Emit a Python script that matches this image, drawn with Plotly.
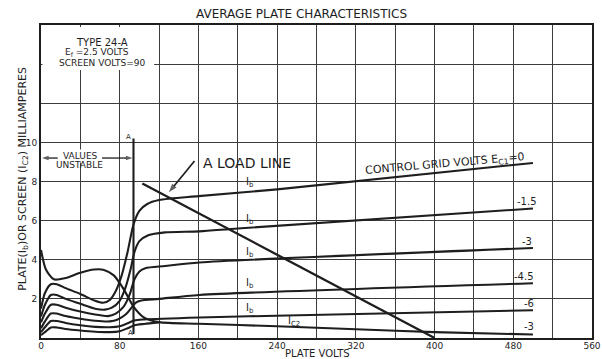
import plotly.graph_objects as go

# ---- data (plate volts, milliamperes) ----
V_IB0 = [0, 4, 10, 16, 25, 40, 55, 63, 70, 76, 82, 88, 94, 100, 108, 120, 160, 240, 500]
IB0 = [1.5, 2.3, 2.75, 2.75, 2.55, 2.25, 1.9, 1.8, 1.95, 2.4, 3.2, 4.4, 5.8, 6.5, 6.85, 7.05, 7.25, 7.6, 8.95]

V_IB15 = [0, 4, 10, 16, 25, 40, 55, 65, 72, 80, 86, 91, 95, 100, 109, 126, 161, 200, 500]
IB15 = [1.1, 1.7, 2.2, 2.2, 2.0, 1.75, 1.5, 1.45, 1.55, 1.9, 2.6, 3.5, 4.4, 4.95, 5.25, 5.4, 5.45, 5.6, 6.62]

V_IB3 = [0, 4, 10, 16, 25, 40, 55, 68, 76, 84, 90, 95, 100, 106, 126, 161, 500]
IB3 = [0.8, 1.25, 1.7, 1.7, 1.55, 1.35, 1.2, 1.12, 1.25, 1.6, 2.2, 3.0, 3.4, 3.57, 3.68, 3.86, 4.6]

V_IB45 = [0, 4, 10, 16, 25, 40, 55, 70, 78, 86, 92, 96, 102, 120, 161, 500]
IB45 = [0.5, 0.85, 1.25, 1.25, 1.12, 0.98, 0.88, 0.85, 0.95, 1.2, 1.55, 1.8, 1.92, 2.0, 2.2, 2.8]

V_IB6 = [0, 4, 10, 16, 25, 40, 55, 70, 80, 88, 95, 105, 161, 250, 500]
IB6 = [0.3, 0.55, 0.87, 0.87, 0.77, 0.65, 0.57, 0.55, 0.6, 0.75, 0.9, 0.95, 1.05, 1.15, 1.42]

V_IB9 = [0, 4, 10, 16, 25, 40, 55, 70, 80, 88, 95, 105, 120]
IB9 = [0.15, 0.3, 0.54, 0.54, 0.46, 0.38, 0.32, 0.3, 0.35, 0.5, 0.65, 0.72, 0.8]

V_IC2 = [0, 5, 13, 24, 40, 54, 64, 74, 84, 94, 104, 120, 160, 240, 320, 400, 500]
IC2 = [4.5, 3.5, 3.0, 3.05, 3.34, 3.5, 3.48, 3.2, 2.5, 1.6, 1.07, 0.81, 0.73, 0.6, 0.45, 0.3, 0.18]

LOAD_V = [103, 400]
LOAD_I = [7.9, 0]

A_V = [94, 94]
A_I = [0.2, 10.2]

# arrow segments (tail -> tip)
UNSTABLE_LEFT_V = [17, 1]
UNSTABLE_RIGHT_V = [62, 93]
UNSTABLE_I = [9.2, 9.2]
POINTER_V = [156, 130]
POINTER_I = [9.05, 7.45]

X_TICKS = [0, 80, 160, 240, 320, 400, 480, 560]
X_LABELS = ["0", "80", "160", "240", "320", "400", "480", "560"]
X_MINOR = [40, 120, 200, 280, 360, 440, 520]
Y_TICKS = [2, 4, 6, 8, 10]
Y_LABELS = ["2", "4", "6", "8", "10"]
Y_MINOR = [12, 14]

GRID_LABELS = ["-1.5", "-3", "-4.5", "-6", "-3"]
GRID_LABEL_V = [494, 494, 491, 496, 496]
GRID_LABEL_I = [7.0, 4.95, 3.13, 1.76, 0.58]

IB_LABEL_I = [7.96, 6.06, 4.35, 2.8, 1.52]

INK = "#1e1e1e"
GRID = "#3c3c3c"
FONT = "DejaVu Sans"

fig = go.Figure()
curves = [(V_IB0, IB0), (V_IB15, IB15), (V_IB3, IB3), (V_IB45, IB45),
          (V_IB6, IB6), (V_IB9, IB9), (V_IC2, IC2)]
for vx, iy in curves:
    fig.add_trace(go.Scatter(x=vx, y=iy, mode="lines",
                             line=dict(color=INK, width=2.1, shape="spline", smoothing=0.7),
                             hoverinfo="skip"))
fig.add_trace(go.Scatter(x=LOAD_V, y=LOAD_I, mode="lines",
                         line=dict(color=INK, width=2.3), hoverinfo="skip"))
fig.add_trace(go.Scatter(x=A_V, y=A_I, mode="lines",
                         line=dict(color=INK, width=2.1), hoverinfo="skip"))

for ax_v, ax_i, w, ms in [(UNSTABLE_LEFT_V, UNSTABLE_I, 1.3, 7),
                          (UNSTABLE_RIGHT_V, UNSTABLE_I, 1.3, 7),
                          (POINTER_V, POINTER_I, 1.7, 9)]:
    fig.add_trace(go.Scatter(x=ax_v, y=ax_i, mode="lines+markers",
                             line=dict(color=INK, width=w),
                             marker=dict(symbol="arrow", size=[0, ms], angleref="previous",
                                         color=INK, line=dict(width=0)),
                             hoverinfo="skip"))

fig.update_layout(
    width=602, height=359,
    margin=dict(l=41, r=10, t=25, b=21, autoexpand=False),
    paper_bgcolor="white", plot_bgcolor="white",
    showlegend=False,
    font=dict(family=FONT, color=INK),
)
fig.update_xaxes(range=[0, 560], tickvals=X_TICKS, ticktext=X_LABELS, automargin=False,
                 showgrid=True, gridcolor=GRID, gridwidth=1.4,
                 minor=dict(tickvals=X_MINOR, showgrid=True, gridcolor=GRID, gridwidth=1.4, ticks=""),
                 showline=True, linecolor=INK, linewidth=2, mirror=True, ticklabelstandoff=-2,
                 ticks="", zeroline=False, tickfont=dict(size=9, family=FONT, color=INK))
fig.update_yaxes(range=[0, 16], tickvals=Y_TICKS, ticktext=Y_LABELS, automargin=False,
                 showgrid=True, gridcolor=GRID, gridwidth=1.4,
                 minor=dict(tickvals=Y_MINOR, showgrid=True, gridcolor=GRID, gridwidth=1.4, ticks=""),
                 showline=True, linecolor=INK, linewidth=2, mirror=True,
                 ticks="", zeroline=False, tickfont=dict(size=9, family=FONT, color=INK))

# white box for the tube description (covers grid in the corner)
fig.add_shape(type="rect", x0=1.5, x1=115, y0=13.7, y1=15.9, xref="x", yref="y",
              fillcolor="white", line=dict(width=0), layer="above")

ann = []
def txt(x, y, t, size=9, xref="x", yref="y", **kw):
    d = dict(x=x, y=y, text=t, xref=xref, yref=yref, showarrow=False,
             xanchor="center", yanchor="middle",
             font=dict(size=size, family=FONT, color=INK))
    d.update(kw)
    ann.append(d)

txt(0.472, 1.035, "AVERAGE PLATE CHARACTERISTICS", size=12, xref="paper", yref="paper")
txt(281, -0.049, "PLATE VOLTS", size=10, yref="paper")
txt(-0.033, 0.508, "PLATE(I<sub>b</sub>)OR SCREEN (I<sub>C2</sub>) MILLIAMPERES",
    size=11, xref="paper", yref="paper", textangle=-90)

txt(62, 15.13, "TYPE 24-A", size=10)
txt(57, 14.6, "E<sub>f</sub> =2.5 VOLTS", size=9)
txt(62, 14.06, "SCREEN VOLTS=90", size=9)

txt(40, 9.3, "VALUES", size=9, bgcolor="white")
txt(39, 8.85, "UNSTABLE", size=9)

txt(88.5, 10.3, "A", size=7)
txt(90.5, 0.27, "A", size=7)

txt(209, 8.95, "A LOAD LINE", size=14)

txt(411, 8.9, "CONTROL GRID VOLTS E<sub>C1</sub>=0", size=11, textangle=-5)
for lab, vx, iy in zip(GRID_LABELS, GRID_LABEL_V, GRID_LABEL_I):
    txt(vx, iy, lab, size=10)
for iy in IB_LABEL_I:
    txt(212, iy, "I<sub>b</sub>", size=10)
txt(257, 0.85, "I<sub>C2</sub>", size=10)

fig.update_layout(annotations=ann)
fig.write_html("out.html")
